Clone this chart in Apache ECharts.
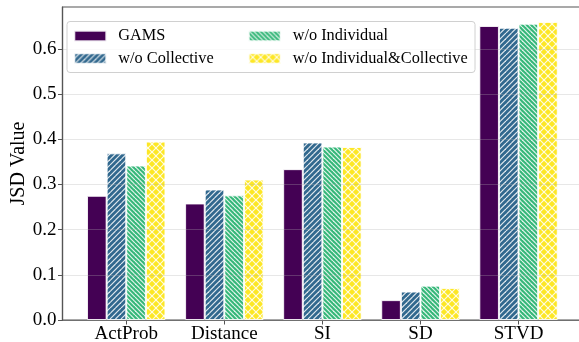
<!DOCTYPE html>
<html>
<head>
<meta charset="utf-8">
<script src="https://cdn.jsdelivr.net/npm/echarts@6/dist/echarts.min.js"></script>
<style>
  html, body { margin: 0; padding: 0; background: #ffffff; }
  #chart { width: 579px; height: 342px; }
</style>
</head>
<body>
<div id="chart"></div>
<script>
// Ablation results: JSD per metric for the full model and its variants
const categories = ['ActProb', 'Distance', 'SI', 'SD', 'STVD'];
const seriesNames = ['GAMS', 'w/o Collective', 'w/o Individual', 'w/o Individual&Collective'];
const gams         = [0.275, 0.258, 0.334, 0.044, 0.651];
const woCollective = [0.369, 0.289, 0.393, 0.063, 0.647];
const woIndividual = [0.342, 0.276, 0.384, 0.076, 0.656];
const woBoth       = [0.395, 0.311, 0.383, 0.071, 0.660];
const yTicks = [0, 0.1, 0.2, 0.3, 0.4, 0.5, 0.6];

const FONT = '"Liberation Serif", "Times New Roman", serif';
const BAR_W = 0.2;                 // bar width in category units
const offsets = [-0.3, -0.1, 0.1, 0.3];
const X_MIN = -0.65, X_MAX = categories.length - 1 + 0.65;
const GRID = { left: 62.5, top: 7, width: 519.8, height: 313 };
const barPx = BAR_W * GRID.width / (X_MAX - X_MIN);

// hatch tile: coloured background with white diagonal strokes,
// `step` px apart; the tile holds `reps` strokes so it repeats seamlessly
function hatch(bg, dirs, step, reps, lw) {
  const size = step * reps;
  const c = document.createElement('canvas');
  c.width = size; c.height = size;
  const g = c.getContext('2d');
  g.fillStyle = bg;
  g.fillRect(0, 0, size, size);
  g.strokeStyle = 'rgba(255,255,255,0.85)';
  g.lineWidth = lw;
  dirs.forEach(function (d) {
    for (let k = -reps - 1; k <= reps + 1; k++) {
      g.beginPath();
      if (d === '/') { g.moveTo(k * step, size); g.lineTo(k * step + size, 0); }
      else { g.moveTo(k * step, 0); g.lineTo(k * step + size, size); }
      g.stroke();
    }
  });
  return { image: c, repeat: 'repeat' };
}

const fills = [
  '#440154',
  hatch('#31688e', ['/'], 5.5, 2, 1.2),
  hatch('#35b779', ['\\'], 4.5, 2, 1.2),
  hatch('#fde725', ['/', '\\'], 8, 1, 1.2)
];
const values = [gams, woCollective, woIndividual, woBoth];

const series = seriesNames.map(function (name, s) {
  return {
    name: name,
    type: 'bar',
    barWidth: barPx,
    barGap: '-100%',
    itemStyle: { color: fills[s], borderColor: 'rgba(255,255,255,0.85)', borderWidth: 1 },
    data: values[s].map(function (v, i) { return [i + offsets[s], v]; }),
    z: 2
  };
});

const legendText = { fontFamily: FONT, fontSize: 16.3, color: '#000', padding: [0, 0, 0, 7] };
function legendCol(names, left) {
  return {
    data: names, orient: 'vertical', left: left, top: 28, padding: 0,
    itemWidth: 32, itemHeight: 10.5, itemGap: 6.5, icon: 'rect',
    selectedMode: false, textStyle: legendText, z: 11
  };
}

const chart = echarts.init(document.getElementById('chart'), null, { renderer: 'canvas' });
chart.setOption({
  animation: false,
  backgroundColor: '#ffffff',
  grid: Object.assign({ show: true, borderColor: '#555', borderWidth: 1.2, backgroundColor: 'transparent', outerBoundsMode: 'none', containLabel: false }, GRID),
  xAxis: {
    type: 'value', min: X_MIN, max: X_MAX,
    axisLine: { show: true, onZero: false, lineStyle: { color: '#555', width: 1.2 } },
    axisTick: { show: true, length: 4.5, inside: false, customValues: categories.map(function (c, i) { return i; }), lineStyle: { color: '#555' } },
    axisLabel: {
      customValues: categories.map(function (c, i) { return i; }),
      formatter: function (v) { return categories[Math.round(v)]; },
      fontFamily: FONT, fontSize: 19, color: '#000', margin: 5
    },
    splitLine: { show: false }
  },
  yAxis: {
    type: 'value', min: 0, max: 0.693,
    name: 'JSD Value', nameLocation: 'middle', nameGap: 34, nameMoveOverlap: false,
    nameTextStyle: { fontFamily: FONT, fontSize: 20, color: '#000' },
    axisLine: { show: true, onZero: false, lineStyle: { color: '#555', width: 1.2 } },
    axisTick: { show: true, length: 4.5, customValues: yTicks, lineStyle: { color: '#555' } },
    axisLabel: {
      customValues: yTicks,
      formatter: function (v) { return v.toFixed(1); },
      fontFamily: FONT, fontSize: 19, color: '#000', margin: 6
    },
    splitLine: { show: true, lineStyle: { color: 'rgba(176,176,176,0.3)', width: 1.1 } },
    z: 3
  },
  legend: [
    legendCol(seriesNames.slice(0, 2), 73.3),
    legendCol(seriesNames.slice(2, 4), 247.7)
  ],
  graphic: [{
    type: 'rect', z: 10,
    shape: { x: 67, y: 21.5, width: 408, height: 51, r: 3 },
    style: { fill: 'rgba(255,255,255,0.8)', stroke: '#d0d0d0', lineWidth: 1 }
  }],
  series: series
});
</script>
</body>
</html>
